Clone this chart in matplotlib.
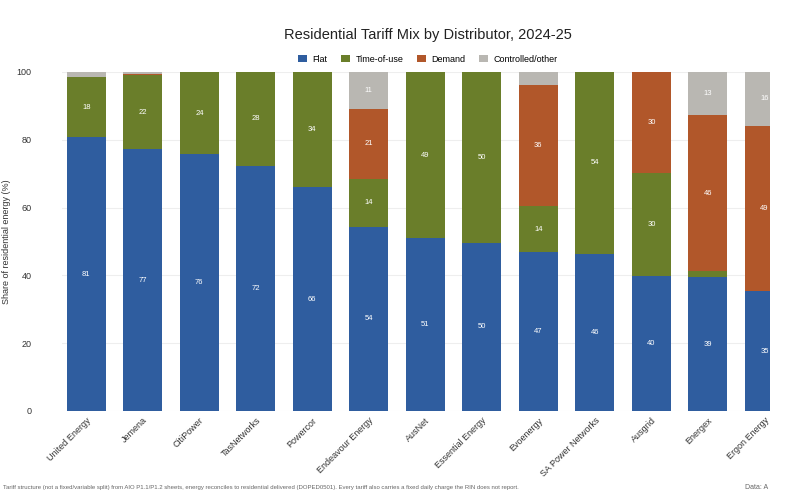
import matplotlib
matplotlib.use("Agg")
import matplotlib.pyplot as plt
import numpy as np

plt.rcParams["font.family"] = "Liberation Sans"

DISTRIBUTORS = ["United Energy", "Jemena", "CitiPower", "TasNetworks", "Powercor",
                "Endeavour Energy", "AusNet", "Essential Energy", "Evoenergy",
                "SA Power Networks", "Ausgrid", "Energex", "Ergon Energy"]
FLAT = [80.8, 77.2, 75.8, 72.3, 66.0, 54.4, 51.0, 49.6, 46.8, 46.4, 39.8, 39.4, 35.3]
TOU = [17.7, 21.8, 24.1, 27.7, 34.0, 14.0, 49.0, 50.4, 13.6, 53.6, 30.4, 1.8, 0.0]
DEMAND = [0.0, 0.3, 0.1, 0.0, 0.0, 20.8, 0.0, 0.0, 35.8, 0.0, 29.8, 46.2, 48.9]
OTHER = [1.5, 0.7, 0.0, 0.0, 0.0, 10.8, 0.0, 0.0, 3.8, 0.0, 0.0, 12.6, 15.8]

SERIES = [("Flat", FLAT, "#2F5D9F"), ("Time-of-use", TOU, "#6A7E2A"),
          ("Demand", DEMAND, "#B1572A"), ("Controlled/other", OTHER, "#B9B7B2")]

fig = plt.figure(figsize=(7.85, 5.0), dpi=100)
ax = fig.add_axes([0.079, 0.178, 0.902, 0.678])

x = np.arange(len(DISTRIBUTORS))
bottom = np.zeros(len(x))
for name, vals, color in SERIES:
    vals = np.array(vals)
    ax.bar(x, vals, 0.69, bottom=bottom, color=color, label=name, zorder=2)
    for xi, b, v in zip(x, bottom, vals):
        if v >= 5:
            ax.text(xi, b + v / 2, f"{v:.0f}", ha="center", va="center",
                    color="white", fontsize=5.5, zorder=3)
    bottom += vals

ax.set_xlim(-0.43, 12.1)
ax.set_ylim(0, 100)
ax.set_yticks(range(0, 101, 20))
ax.grid(axis="y", color="#EEEEEE", linewidth=0.8, zorder=0)
for s in ax.spines.values():
    s.set_visible(False)
ax.tick_params(length=0, labelsize=6.5, colors="#333333")
ax.tick_params(axis="y", pad=22)
ax.set_xticks(x)
ax.set_xticklabels(DISTRIBUTORS, rotation=45, ha="right", rotation_mode="anchor")
ax.set_ylabel("Share of residential energy (%)", fontsize=6.5, color="#333333")

fig.text(0.545, 0.93, "Residential Tariff Mix by Distributor, 2024-25",
         ha="center", va="center", fontsize=10.5, color="#222222")
fig.legend(loc="center", bbox_to_anchor=(0.545, 0.882), ncol=4, frameon=False,
           fontsize=6.5, handlelength=1.0, handleheight=0.8, columnspacing=1.5,
           handletextpad=0.6)
fig.text(0.004, 0.025,
         "Tariff structure (not a fixed/variable split) from AIO P1.1/P1.2 sheets, energy reconciles to "
         "residential delivered (DOPED0501). Every tariff also carries a fixed daily charge the RIN does not report.",
         fontsize=4.3, color="#666666", va="center")
fig.text(0.978, 0.025, "Data: A", fontsize=5, color="#666666", ha="right", va="center")

fig.savefig("out.png", dpi=100, facecolor="white")
